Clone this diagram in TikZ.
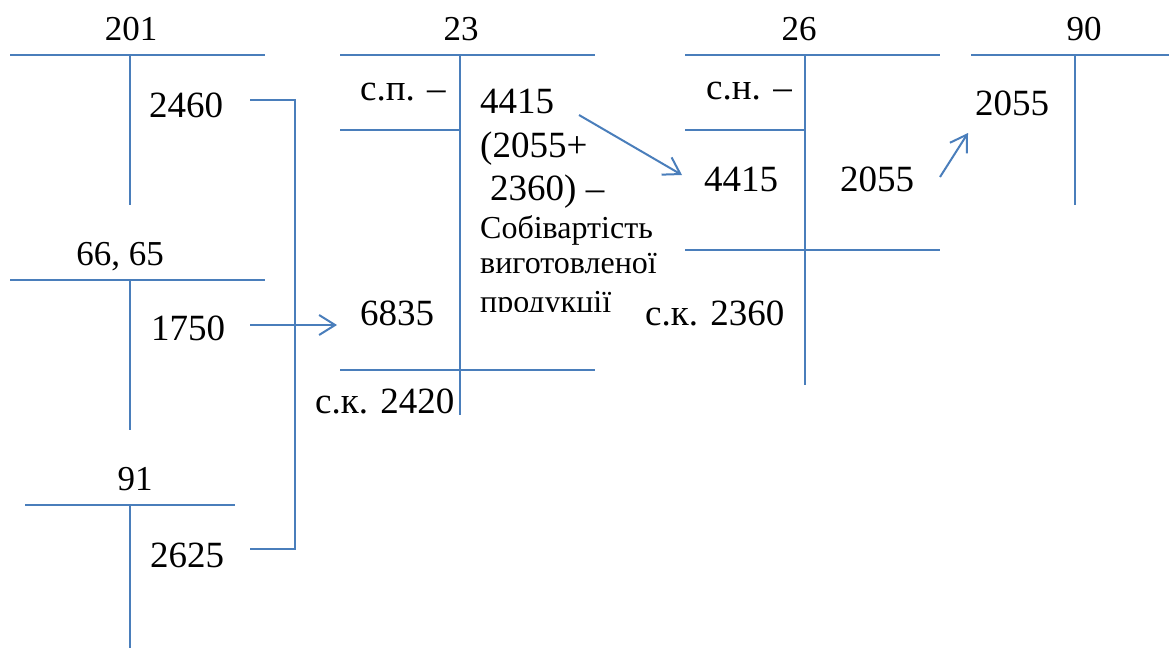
\documentclass[tikz,border=0pt]{standalone}
\usepackage{fontspec}
\setmainfont{Liberation Serif}
\usetikzlibrary{arrows.meta}
\definecolor{acc}{HTML}{4A7EBB}
\tikzset{
  acct/.style={draw=acc, line width=2pt},
  big/.style={inner sep=0pt, font=\fontsize{37}{42}\selectfont, anchor=base west},
  ttl/.style={inner sep=0pt, font=\fontsize{35}{42}\selectfont, anchor=base},
  small/.style={inner sep=0pt, font=\fontsize{32}{36}\selectfont, anchor=base west},
  flow/.style={draw=acc, line width=2pt, -{Straight Barb[length=16pt,width=20pt]}},
}
\begin{document}
\begin{tikzpicture}[x=1pt,y=-1pt]
\useasboundingbox (0,0) rectangle (1169,648);

% account 201
\draw[acct] (10,55) -- (265,55) (130,55) -- (130,205);
\node[ttl] (t201) at (131,40) {201};
\node[big] (v2460) at (149,117) {2460};

% account 66, 65
\draw[acct] (10,280) -- (265,280) (130,280) -- (130,430);
\node[ttl] (t6665) at (120,265) {66, 65};
\node[big] (v1750) at (151,340) {1750};

% account 91
\draw[acct] (25,505) -- (235,505) (130,505) -- (130,648);
\node[ttl] (t91) at (135,490) {91};
\node[big] (v2625) at (150,567) {2625};

% account 23
\draw[acct] (340,55) -- (595,55) (460,55) -- (460,415)
  (340,130) -- (460,130) (340,370) -- (595,370);
\node[ttl] (t23) at (461,40) {23};
\node[big] (sp23) at (360,100) {с.п. –};
\node[big] (d4415) at (480,113) {4415};
\node[big] (d2055p) at (480,157) {(2055+};
\node[big] (d2360) at (490,200) {2360) –};
\node[small] (dsob) at (480,238) {Собівартість};
\node[small] (dvyg) at (480,273) {виготовленої};
\begin{scope}
  \clip (470,280) rectangle (680,311);
  \node[small] (dprod) at (480,312) {продукції};
\end{scope}
\node[big] (v6835) at (360,325) {6835};
\node[big] (sk23) at (315,413) {с.к. 2420};

% account 26
\draw[acct] (685,55) -- (940,55) (805,55) -- (805,385)
  (685,130) -- (805,130) (685,250) -- (940,250);
\node[ttl] (t26) at (799,40) {26};
\node[big] (sn26) at (706,99) {с.н. –};
\node[big] (k4415) at (704,191) {4415};
\node[big] (c2055) at (840,191) {2055};
\node[big] (sk26) at (645,325) {с.к. 2360};

% account 90
\draw[acct] (971,55) -- (1169,55) (1075,55) -- (1075,205);
\node[ttl] (t90) at (1084,40) {90};
\node[big] (k2055) at (975,115) {2055};

% connectors
\coordinate (s2460) at (250,100);
\coordinate (s1750) at (250,325);
\coordinate (s2625) at (250,549);
\coordinate (e6835) at (337,325);
\coordinate (a1s) at (579,115);
\coordinate (a1e) at (682,175);
\coordinate (a2s) at (940,177);
\coordinate (a2e) at (968,133);

\draw[acct] (s2460) -- ++(45,0) |- (s2625);
\draw[flow] (s1750) -- (e6835);
\draw[flow] (a1s) -- (a1e);
\draw[flow] (a2s) -- (a2e);
\end{tikzpicture}
\end{document}
